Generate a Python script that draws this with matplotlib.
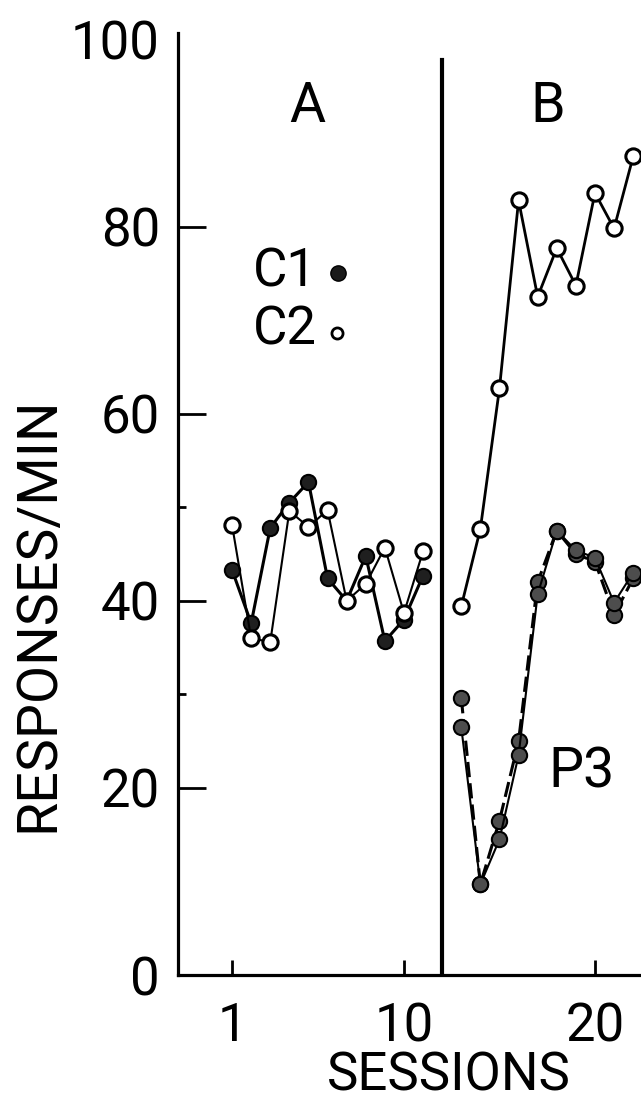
import matplotlib.pyplot as plt
import numpy as np

plt.rcParams['font.family'] = ['Roboto', 'DejaVu Sans']

# Phase A: sessions 1-11, both conditions
sessions_a = np.arange(1, 12)
c1_a = [43.3, 37.6, 47.8, 50.5, 52.7, 42.4, 40.0, 44.8, 35.7, 38.0, 42.7]
c2_a = [48.1, 36.0, 35.6, 49.6, 47.9, 49.7, 40.0, 41.8, 45.7, 38.7, 45.3]

# Phase B: sessions 13-22
sessions_b = np.arange(13, 23)
c2_b = [39.4, 47.7, 62.7, 82.8, 72.5, 77.7, 73.7, 83.6, 79.8, 87.5]
p3_solid = [26.5, 9.7, 14.5, 23.5, 40.7, 47.5, 45.4, 44.6, 39.8, 43.0]
p3_dashed = [29.6, 9.7, 16.5, 25.0, 42.0, 47.5, 45.0, 44.2, 38.5, 42.4]

x_ticks = [1, 10, 20]
y_ticks = [0, 20, 40, 60, 80, 100]
y_minor = [30, 50]
phase_break = 12

fs = 38

fig = plt.figure(figsize=(6.41, 11.06), dpi=100)
ax = fig.add_axes([0.2777, 0.1184, 0.7223, 0.8518])
ax.set_xlim(-1.83, 22.41)
ax.set_ylim(0, 100.7)

for side in ['top', 'right']:
    ax.spines[side].set_visible(False)
for side in ['left', 'bottom']:
    ax.spines[side].set_linewidth(2.3)

ax.set_xticks(x_ticks)
ax.set_yticks(y_ticks)
ax.set_yticks(y_minor, minor=True)
ax.tick_params(axis='y', direction='in', length=20, width=2, labelsize=fs, pad=13)
ax.tick_params(axis='y', which='minor', direction='in', length=6, width=2)
ax.tick_params(axis='x', direction='in', length=11, width=2, labelsize=fs, pad=19)
ax.yaxis.get_major_ticks()[-1].tick1line.set_visible(False)

# phase A
ax.plot(sessions_a, c1_a, '-', color='black', lw=2.2, marker='o', ms=11,
        mfc='0.12', mec='black', mew=1.5)
ax.plot(sessions_a, c2_a, '-', color='black', lw=1.5, marker='o', ms=11,
        mfc='white', mec='black', mew=2.2)

# phase B
ax.plot(sessions_b, c2_b, '-', color='black', lw=2.0, marker='o', ms=11,
        mfc='white', mec='black', mew=2.2, clip_on=False)
ax.plot(sessions_b, p3_dashed, '--', dashes=(5, 2), color='black', lw=2.2,
        marker='o', ms=11, mfc='0.3', mec='black', mew=1.5, clip_on=False)
ax.plot(sessions_b, p3_solid, '-', color='black', lw=1.5, marker='o', ms=11,
        mfc='0.3', mec='black', mew=1.5, clip_on=False)

ax.plot([phase_break, phase_break], [0, 97.8], color='black', lw=3)

ax.text(4.93, 92.8, 'A', fontsize=fs + 2, ha='center', va='center')
ax.text(17.5, 92.8, 'B', fontsize=fs + 2, ha='center', va='center')
ax.text(19.3, 21.7, 'P3', fontsize=fs + 2, ha='center', va='center')

# key
ax.text(2.1, 75.2, 'C1', fontsize=fs, ha='left', va='center')
ax.plot(6.55, 75.0, 'o', ms=11, mfc='0.1', mec='black')
ax.text(2.1, 69.0, 'C2', fontsize=fs, ha='left', va='center')
ax.plot(6.5, 68.6, 'o', ms=8, mfc='white', mec='black', mew=2)

fig.text(38 / 641, 1 - 614 / 1106, 'RESPONSES/MIN', fontsize=40,
         rotation=90, ha='center', va='center')
fig.text(449 / 641, 1 - 1076 / 1106, 'SESSIONS', fontsize=fs,
         ha='center', va='center')

fig.savefig('out.png', dpi=100)
